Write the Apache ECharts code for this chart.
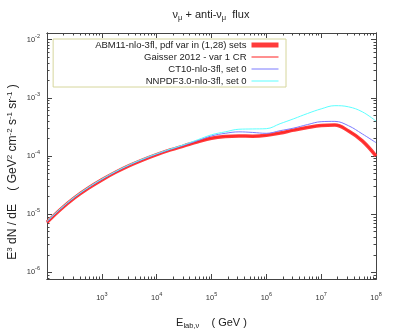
<!DOCTYPE html>
<html>
<head>
<meta charset="utf-8">
<script src="https://cdn.jsdelivr.net/npm/echarts@6/dist/echarts.min.js"></script>
<style>
  html, body { margin: 0; padding: 0; background: #fff; }
  #chart { width: 395px; height: 335px; }
</style>
</head>
<body>
<div id="chart"></div>
<script>
// neutrino energy, GeV
const energies = [1e2, 1.78e2, 3.16e2, 5.62e2, 1e3, 1.78e3, 3.16e3, 5.62e3, 1e4, 1.78e4, 3.16e4, 5.62e4,
    1e5, 1.78e5, 3.16e5, 5.62e5, 1e6, 1.78e6, 3.16e6, 5.62e6, 1e7, 1.78e7, 3.16e7, 5.62e7, 1e8];
// E^3 dN/dE in GeV^2 cm^-2 s^-1 sr^-1
const abm11   = [7.244e-6, 1.216e-5, 1.905e-5, 2.786e-5, 3.890e-5, 5.248e-5, 6.839e-5, 8.610e-5, 1.059e-4, 1.274e-4, 1.496e-4, 1.758e-4,
    2.018e-4, 2.163e-4, 2.213e-4, 2.188e-4, 2.265e-4, 2.483e-4, 2.786e-4, 3.090e-4, 3.35e-4, 3.42e-4, 2.69e-4, 1.82e-4, 1.00e-4];
const gaisser = [7.244e-6, 1.216e-5, 1.905e-5, 2.786e-5, 3.890e-5, 5.248e-5, 6.839e-5, 8.610e-5, 1.059e-4, 1.274e-4, 1.496e-4, 1.758e-4,
    2.018e-4, 2.163e-4, 2.213e-4, 2.188e-4, 2.265e-4, 2.483e-4, 2.786e-4, 3.090e-4, 3.35e-4, 3.42e-4, 2.69e-4, 1.82e-4, 1.00e-4];
const ct10    = [7.413e-6, 1.236e-5, 1.936e-5, 2.831e-5, 3.954e-5, 5.333e-5, 6.950e-5, 8.750e-5, 1.076e-4, 1.297e-4, 1.531e-4, 1.841e-4,
    2.213e-4, 2.455e-4, 2.600e-4, 2.541e-4, 2.455e-4, 2.723e-4, 3.020e-4, 3.467e-4, 3.890e-4, 3.936e-4, 3.311e-4, 2.399e-4, 1.698e-4];
const nnpdf   = [7.586e-6, 1.256e-5, 1.968e-5, 2.877e-5, 4.018e-5, 5.420e-5, 7.063e-5, 8.892e-5, 1.094e-4, 1.318e-4, 1.567e-4, 1.905e-4,
    2.317e-4, 2.600e-4, 2.884e-4, 2.917e-4, 2.951e-4, 3.589e-4, 4.365e-4, 5.370e-4, 6.457e-4, 7.328e-4, 6.998e-4, 5.754e-4, 3.981e-4];

// axis decades (log10)
const xDecades = [2, 3, 4, 5, 6, 7, 8];
const xLabels = [3, 4, 5, 6, 7, 8];
const yDecades = [-6, -5, -4, -3, -2];
const xMin = 2, xMax = 8;
const yMin = Math.log10(7.7e-7), yMax = Math.log10(1.3e-2);

const FONT = 'Liberation Sans, Arial, sans-serif';
const AXC = '#444';

function minors(lo, hi) {
    let out = [];
    for (let d = Math.floor(lo); d < hi; d++) {
        for (let k = 2; k <= 9; k++) {
            let v = d + Math.log10(k);
            if (v > lo && v < hi) out.push(v);
        }
    }
    return out;
}

const supRich = {
    b: {fontSize: 7.5, color: '#333', fontFamily: FONT},
    s: {fontSize: 5.5, color: '#333', fontFamily: FONT, padding: [0, 0, 7, 0]}
};
const powLabel = v => '{b|10}{s|' + Math.round(v) + '}';

function xAx(pos, ticks, len, labels) {
    return {
        type: 'value', position: pos, min: xMin, max: xMax,
        axisLine: {show: true, onZero: false, lineStyle: {color: AXC, width: 1}},
        axisTick: {show: true, inside: true, length: len, customValues: ticks, lineStyle: {color: AXC}},
        axisLabel: labels ? {show: true, margin: 12, customValues: labels, formatter: powLabel, rich: supRich,
            showMinLabel: true, showMaxLabel: true} : {show: false},
        splitLine: {show: false}
    };
}
function yAx(pos, ticks, len, labels) {
    return {
        type: 'value', position: pos, min: yMin, max: yMax,
        axisLine: {show: true, onZero: false, lineStyle: {color: AXC, width: 1}},
        axisTick: {show: true, inside: true, length: len, customValues: ticks, lineStyle: {color: AXC}},
        axisLabel: labels ? {show: true, margin: 7, customValues: labels, formatter: powLabel, rich: supRich,
            showMinLabel: true, showMaxLabel: true} : {show: false},
        splitLine: {show: false}
    };
}

const toXY = arr => energies.map((e, i) => [Math.log10(e), Math.log10(arr[i])]);

const names = ['ABM11-nlo-3fl, pdf var in (1,28) sets', 'Gaisser 2012 - var 1 CR', 'CT10-nlo-3fl, set 0', 'NNPDF3.0-nlo-3fl, set 0'];
const colors = ['#ff3b3b', '#ff2020', '#7b7bff', '#5cffff'];
const widths = [3.5, 1, 1, 1];
const values = [abm11, gaisser, ct10, nnpdf];

let chart = echarts.init(document.getElementById('chart'), null, {renderer: 'canvas'});
chart.setOption({
    animation: false,
    backgroundColor: '#fff',
    textStyle: {fontFamily: FONT},
    grid: {left: 47, right: 19, top: 33, bottom: 50, containLabel: false},
    xAxis: [
        Object.assign(xAx('bottom', xDecades, 5, xLabels), {
            name: '{t|E}{d|lab,ν}{t|    ( GeV )}', nameLocation: 'middle', nameGap: 37,
            nameTextStyle: {rich: {t: {fontSize: 11, color: '#222', fontFamily: FONT},
                                   d: {fontSize: 7.5, color: '#222', fontFamily: FONT, padding: [6, 0, 0, 0]}}}
        }),
        xAx('bottom', minors(xMin, xMax), 2.5, null),
        xAx('top', xDecades, 5, null),
        xAx('top', minors(xMin, xMax), 2.5, null)
    ],
    yAxis: [
        yAx('left', yDecades, 5, yDecades),
        yAx('left', minors(yMin, yMax), 2.5, null),
        yAx('right', yDecades, 5, null),
        yAx('right', minors(yMin, yMax), 2.5, null)
    ],
    legend: {
        orient: 'vertical', align: 'right', right: 109, top: 39,
        itemWidth: 27, itemHeight: 5, itemGap: 2,
        padding: [1, 5, 1, 42],
        borderColor: '#d6d69c', borderWidth: 1,
        textStyle: {fontSize: 9.5, color: '#222', lineHeight: 10, fontFamily: FONT},
        data: names.map((n, i) => ({
            name: n,
            itemStyle: {opacity: 0},
            lineStyle: {width: widths[i] > 1 ? 5 : 1}
        }))
    },
    graphic: [
        {
            type: 'text', x: 211, y: 15,
            style: {
                text: '{t|ν}{s|μ}{t| + anti-ν}{s|μ}{t|  flux}',
                align: 'center', verticalAlign: 'middle',
                rich: {t: {fontSize: 11, fill: '#222', fontFamily: FONT},
                       s: {fontSize: 7.5, fill: '#222', fontFamily: FONT, padding: [6, 0, 0, 0]}}
            }
        },
        {
            type: 'text', x: 13, y: 172, rotation: Math.PI / 2,
            style: {
                text: '{t|E}{u|3}{t| dN / dE    ( GeV}{u|2}{t| cm}{u|-2}{t| s}{u|-1}{t| sr}{u|-1}{t| )}',
                align: 'center', verticalAlign: 'middle',
                rich: {t: {fontSize: 12, fill: '#222', fontFamily: FONT},
                       u: {fontSize: 8, fill: '#222', fontFamily: FONT, padding: [0, 0, 7, 0]}}
            }
        }
    ],
    series: names.map((n, i) => ({
        name: n, type: 'line', xAxisIndex: 0, yAxisIndex: 0,
        symbol: 'none', smooth: 0.4,
        lineStyle: {color: colors[i], width: widths[i]},
        itemStyle: {color: colors[i]},
        data: toXY(values[i])
    }))
});
</script>
</body>
</html>
